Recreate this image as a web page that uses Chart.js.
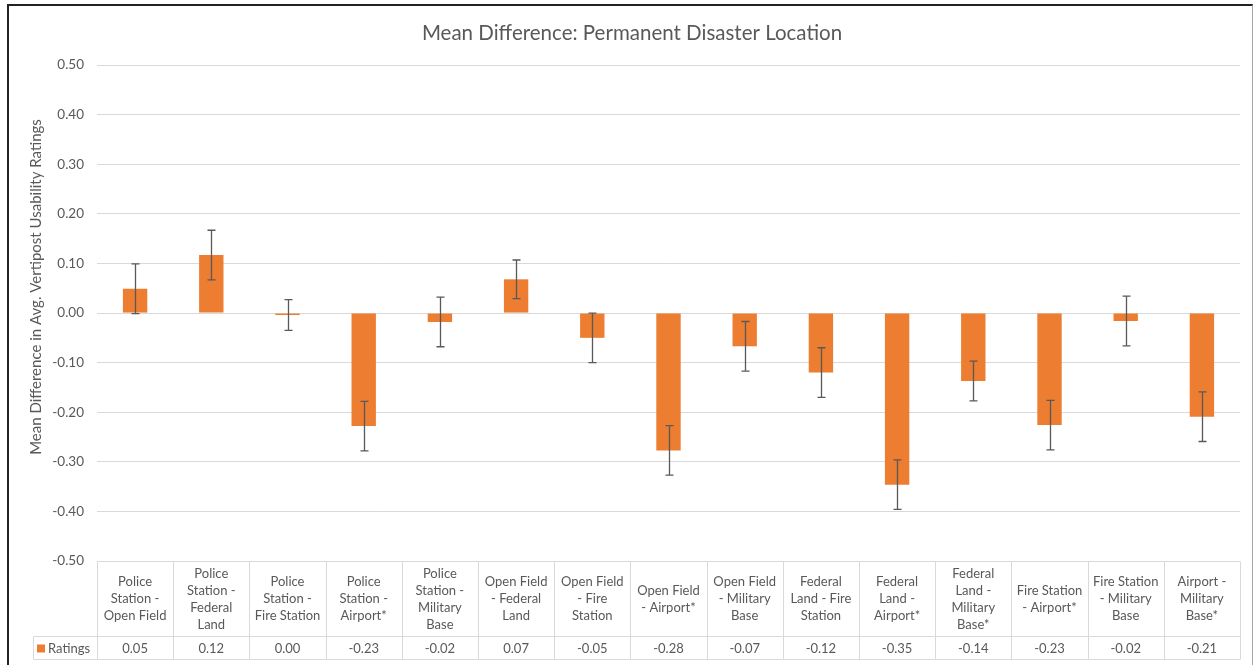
<!DOCTYPE html>
<html>
<head>
<meta charset="utf-8">
<script src="https://cdn.jsdelivr.net/npm/chart.js@4.4.0/dist/chart.umd.min.js"></script>
<style>
  body { margin: 0; background: #fff; }
  #wrap { position: relative; width: 1257px; height: 665px; overflow: hidden; }
  #frame { position: absolute; left: 7px; top: 4px; width: 1246px; height: 680px; box-sizing: border-box;
           border-top: 2px solid #222; border-left: 2px solid #222; border-right: 1px solid #a6a6a6; pointer-events: none; }
</style>
</head>
<body>
<div id="wrap">
  <canvas id="miGrafica" width="1257" height="665"></canvas>
  <div id="frame"></div>
</div>
<script>
// Categorias (cada una partida en lineas como en la tabla de datos)
var categorias = [
  ["Police", "Station -", "Open Field"],
  ["Police", "Station -", "Federal", "Land"],
  ["Police", "Station -", "Fire Station"],
  ["Police", "Station -", "Airport*"],
  ["Police", "Station -", "Military", "Base"],
  ["Open Field", "- Federal", "Land"],
  ["Open Field", "- Fire", "Station"],
  ["Open Field", "- Airport*"],
  ["Open Field", "- Military", "Base"],
  ["Federal", "Land - Fire", "Station"],
  ["Federal", "Land -", "Airport*"],
  ["Federal", "Land -", "Military", "Base*"],
  ["Fire Station", "- Airport*"],
  ["Fire Station", "- Military", "Base"],
  ["Airport -", "Military", "Base*"]
];
var ratings = [0.049, 0.117, -0.004, -0.228, -0.018, 0.068, -0.05, -0.277, -0.067, -0.12, -0.346, -0.137, -0.226, -0.016, -0.209];
var errores = [0.05, 0.05, 0.031, 0.05, 0.05, 0.039, 0.05, 0.05, 0.05, 0.05, 0.05, 0.04, 0.05, 0.05, 0.05];
var ejeMin = -0.5, ejeMax = 0.5, ejePaso = 0.1;
var nombreSerie = "Ratings";
var titulo = "Mean Difference: Permanent Disaster Location";
var tituloY = "Mean Difference in Avg. Vertipost Usability Ratings";

var gris = "#595959";
var naranja = "#ED7D31";
var fuente = "Lato";

function formato(v) { //dos decimales sin "-0.00"
  var r = Math.round(v * 100) / 100;
  if (r === 0) r = 0;
  return r.toFixed(2);
}

var barrasError = { //dibuja las barras de error encima de las barras
  id: "barrasError",
  afterDatasetsDraw: function (chart) {
    var ctx = chart.ctx, y = chart.scales.y;
    var meta = chart.getDatasetMeta(0);
    ctx.save();
    ctx.strokeStyle = gris;
    ctx.lineWidth = 1.3;
    meta.data.forEach(function (bar, i) {
      var y1 = y.getPixelForValue(ratings[i] + errores[i]);
      var y2 = y.getPixelForValue(ratings[i] - errores[i]);
      var x = Math.round(bar.x) + 0.5;
      ctx.beginPath();
      ctx.moveTo(x, y1); ctx.lineTo(x, y2);
      ctx.moveTo(x - 4, y1); ctx.lineTo(x + 4, y1);
      ctx.moveTo(x - 4, y2); ctx.lineTo(x + 4, y2);
      ctx.stroke();
    });
    ctx.restore();
  }
};

var tablaDatos = { //tabla de datos debajo del grafico + titulo del eje Y
  id: "tablaDatos",
  afterDraw: function (chart) {
    var ctx = chart.ctx, x = chart.scales.x, area = chart.chartArea;
    var arriba = Math.round(area.bottom) + 0.5;
    var medio = arriba + 75, fondo = arriba + 98, izq = 33.5;
    var ancho = (area.right - area.left) / categorias.length;
    ctx.save();
    ctx.strokeStyle = "#d9d9d9";
    ctx.lineWidth = 1;
    ctx.beginPath();
    ctx.moveTo(izq, medio); ctx.lineTo(area.right, medio);
    ctx.moveTo(izq, fondo); ctx.lineTo(area.right, fondo);
    ctx.moveTo(izq, medio); ctx.lineTo(izq, fondo);
    for (var i = 0; i <= categorias.length; i++) {
      var xl = Math.round(area.left + i * ancho) + 0.5;
      ctx.moveTo(xl, arriba); ctx.lineTo(xl, fondo);
    }
    ctx.stroke();

    ctx.fillStyle = gris;
    ctx.font = "13px " + fuente;
    ctx.textAlign = "center";
    ctx.textBaseline = "middle";
    var cy = (arriba + medio) / 2, lh = 17;
    categorias.forEach(function (lineas, i) {
      var cx = x.getPixelForValue(i);
      lineas.forEach(function (t, j) {
        ctx.fillText(t, cx, cy + (j - (lineas.length - 1) / 2) * lh);
      });
      ctx.fillText(formato(ratings[i]), cx, (medio + fondo) / 2 + 1);
    });

    ctx.fillStyle = naranja;
    ctx.fillRect(37, (medio + fondo) / 2 - 3.5, 8, 8);
    ctx.fillStyle = gris;
    ctx.textAlign = "left";
    ctx.fillText(nombreSerie, 48, (medio + fondo) / 2 + 1);

    ctx.translate(36, 287);
    ctx.rotate(-Math.PI / 2);
    ctx.textAlign = "center";
    ctx.font = "15px " + fuente;
    ctx.fillText(tituloY, 0, 0);
    ctx.restore();
  }
};

new Chart("miGrafica", {
  type: "bar",
  data: {
    labels: categorias,
    datasets: [{
      label: nombreSerie,
      data: ratings,
      backgroundColor: naranja,
      barPercentage: 0.32,
      categoryPercentage: 1
    }]
  },
  options: {
    responsive: false,
    animation: false,
    layout: { padding: { top: 4, left: 24, right: 17, bottom: 104 } },
    plugins: {
      legend: { display: false },
      tooltip: { enabled: false },
      title: {
        display: true,
        text: titulo,
        color: gris,
        font: { family: fuente, size: 20.5, weight: "normal" },
        padding: { top: 17, bottom: 19.5 }
      }
    },
    scales: {
      x: { display: false },
      y: {
        min: ejeMin,
        max: ejeMax,
        ticks: {
          stepSize: ejePaso,
          color: gris,
          font: { family: fuente, size: 13.5 },
          padding: 13,
          callback: function (v) { return formato(v); }
        },
        grid: { color: "#d9d9d9", drawTicks: false },
        border: { display: false },
        afterFit: function (s) { s.width = 73; }
      }
    }
  },
  plugins: [barrasError, tablaDatos]
});
</script>
</body>
</html>
